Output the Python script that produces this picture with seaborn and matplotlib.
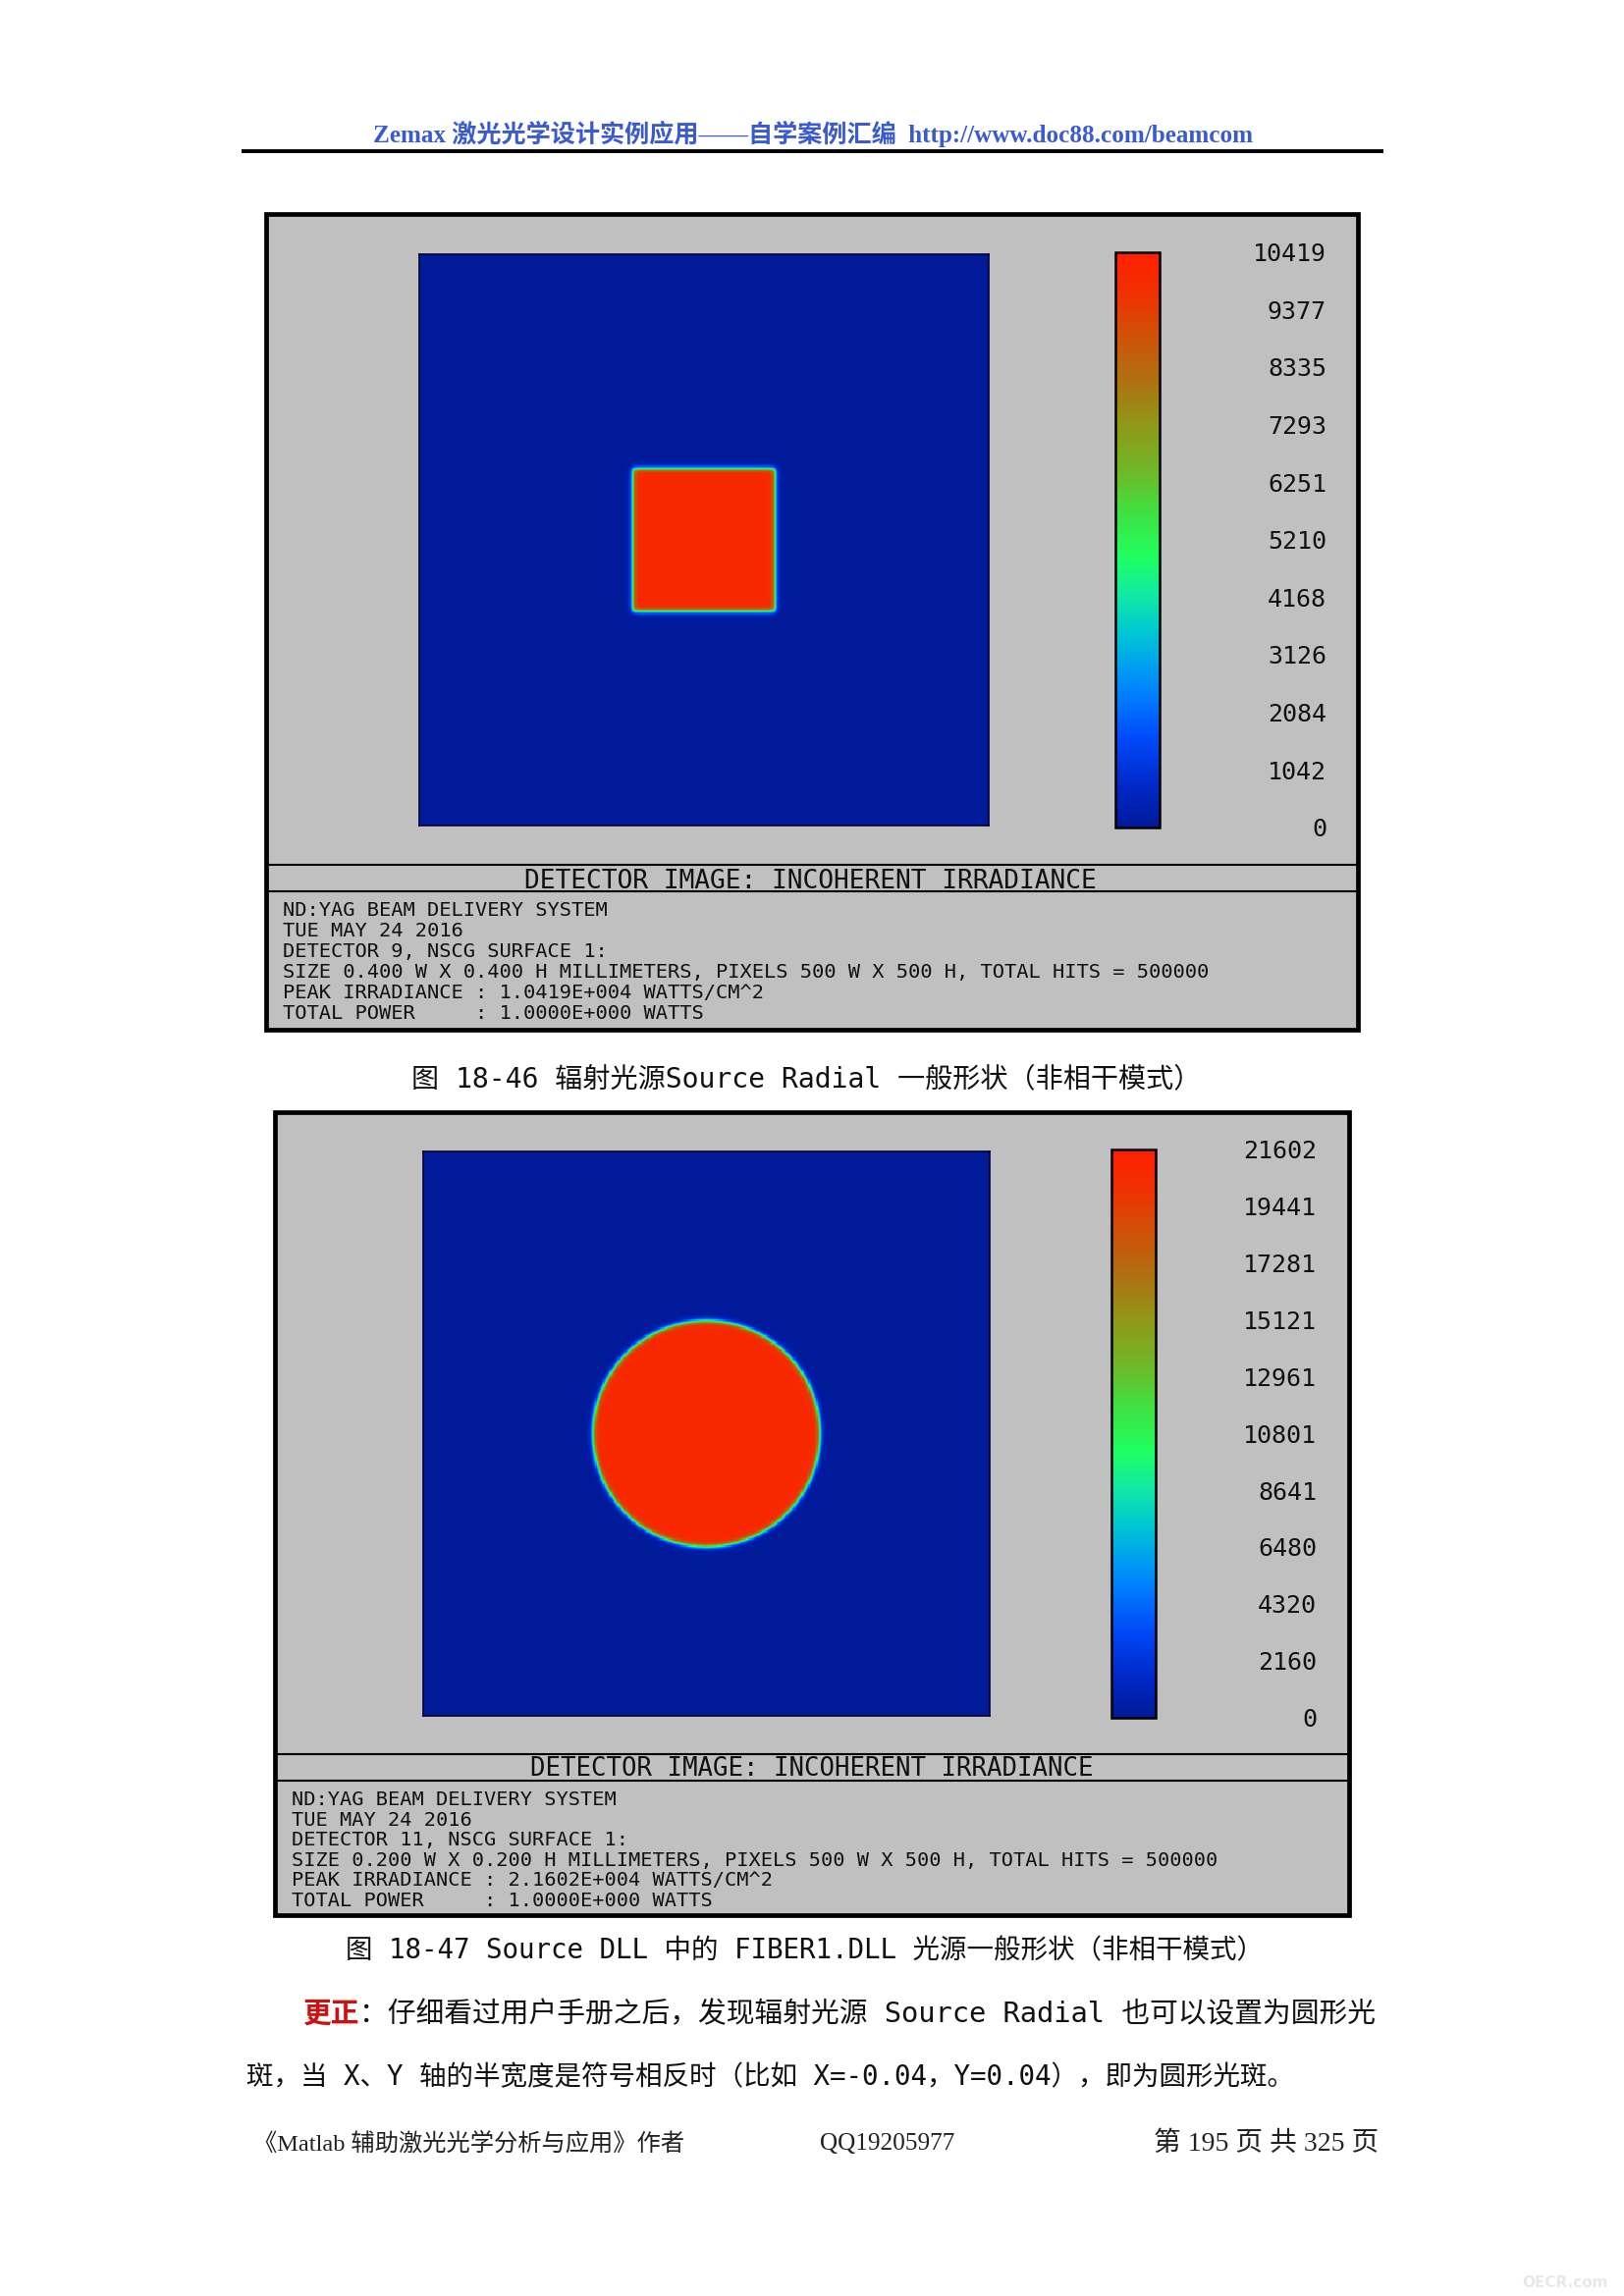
import numpy as np
import matplotlib
matplotlib.use("Agg")
import matplotlib.pyplot as plt
import matplotlib.transforms as mtransforms
from matplotlib.colors import LinearSegmentedColormap
from matplotlib.patches import Rectangle
import seaborn as sns

sns.set_theme(style="white")
plt.rcParams['font.family'] = ['DejaVu Sans', 'Noto Sans CJK SC']

# ---------------- data ----------------
pixels = 500
detector_size_mm = [0.400, 0.200]
source_half_width_mm = [0.050, 0.040]          # square half width / circle radius
source_shape = ["square", "circle"]
mean_irradiance = [10050.0, 20800.0]            # W/cm^2 inside the spot
peak_irradiance = [10419.0, 21602.0]
edge_pixels = [2.6, 2.6]

cbar_labels_1 = ["10419", "9377", "8335", "7293", "6251", "5210",
                 "4168", "3126", "2084", "1042", "0"]
cbar_labels_2 = ["21602", "19441", "17281", "15121", "12961", "10801",
                 "8641", "6480", "4320", "2160", "0"]

detector_title = "DETECTOR IMAGE: INCOHERENT IRRADIANCE"
info_lines_1 = [
    "ND:YAG BEAM DELIVERY SYSTEM",
    "TUE MAY 24 2016",
    "DETECTOR 9, NSCG SURFACE 1:",
    "SIZE 0.400 W X 0.400 H MILLIMETERS, PIXELS 500 W X 500 H, TOTAL HITS = 500000",
    "PEAK IRRADIANCE : 1.0419E+004 WATTS/CM^2",
    "TOTAL POWER     : 1.0000E+000 WATTS",
]
info_lines_2 = [
    "ND:YAG BEAM DELIVERY SYSTEM",
    "TUE MAY 24 2016",
    "DETECTOR 11, NSCG SURFACE 1:",
    "SIZE 0.200 W X 0.200 H MILLIMETERS, PIXELS 500 W X 500 H, TOTAL HITS = 500000",
    "PEAK IRRADIANCE : 2.1602E+004 WATTS/CM^2",
    "TOTAL POWER     : 1.0000E+000 WATTS",
]
header_text = "Zemax 激光光学设计实例应用——自学案例汇编  http://www.doc88.com/beamcom"
caption_1 = "图 18-46 辐射光源Source Radial 一般形状（非相干模式）"
caption_2 = "图 18-47 Source DLL 中的 FIBER1.DLL 光源一般形状（非相干模式）"
para_red = "更正"
para_1 = "：仔细看过用户手册之后，发现辐射光源 Source Radial 也可以设置为圆形光"
para_2 = "斑，当 X、Y 轴的半宽度是符号相反时（比如 X=-0.04，Y=0.04），即为圆形光斑。"
footer_left = "《Matlab 辅助激光光学分析与应用》作者"
footer_mid = "QQ19205977"
footer_right = "第 195 页 共 325 页"

# Zemax false-colour map
zemax_colors = [
    (0.00, "#001a99"), (0.07, "#0028c8"), (0.15, "#0048f8"), (0.22, "#0078ff"),
    (0.28, "#00a0f0"), (0.34, "#00c8d0"), (0.40, "#10e8a8"), (0.47, "#20ff60"),
    (0.55, "#40e040"), (0.62, "#70b828"), (0.70, "#909818"), (0.78, "#b07010"),
    (0.86, "#d05008"), (0.93, "#f03000"), (1.00, "#ff2000"),
]
cmap = LinearSegmentedColormap.from_list("zemax", zemax_colors)


def detector_map(size_mm, half_mm, shape, level, edge_px):
    c = (np.arange(pixels) + 0.5) / pixels * size_mm - size_mm / 2
    X, Y = np.meshgrid(c, c)
    w = edge_px * size_mm / pixels
    if shape == "square":
        fx = 0.5 * (1 - np.tanh((np.abs(X) - half_mm) / w))
        fy = 0.5 * (1 - np.tanh((np.abs(Y) - half_mm) / w))
        return level * fx * fy
    r = np.hypot(X, Y)
    return level * 0.5 * (1 - np.tanh((r - half_mm) / w))


# ---------------- layout ----------------
W, H = 1654, 2339
fig = plt.figure(figsize=(W / 100, H / 100), dpi=100)
fig.patch.set_facecolor("white")

page = fig.add_axes([0, 0, 1, 1])
page.set_xlim(0, W)
page.set_ylim(H, 0)
page.axis("off")


def rect(x0, y0, x1, y1):
    return [x0 / W, 1 - y1 / H, (x1 - x0) / W, (y1 - y0) / H]


renderer = fig.canvas.get_renderer()
CAP = 0.729  # cap height / em for DejaVu Sans Mono


def fit(t, width):
    for _ in range(4):
        w = t.get_window_extent(renderer).width
        t.set_fontsize(t.get_fontsize() * width / w)
    return t


def px(fs):
    return fs * 100 / 72


mono = "DejaVu Sans Mono"
cjk_mono = ["DejaVu Sans Mono", "Noto Sans CJK SC"]
cjk_serif = ["Liberation Serif", "Noto Sans CJK SC"]


def ztext(x, yc, s, fs, width=None):
    t = page.text(x, yc, s, ha="left", va="baseline", family=mono, fontsize=fs,
                  color="#111111", zorder=3)
    if width is not None:
        fit(t, width)
    t.set_y(yc + CAP * px(t.get_fontsize()) / 2)
    return t


# header
t = page.text(380, 136, header_text, ha="left", va="center", color="#3a5ad0",
              fontweight="bold", family=cjk_serif, fontsize=18)
fit(t, 895)
page.plot([246, 1409], [154, 154], color="black", lw=2.8, solid_capstyle="butt")

panels = [
    dict(frame=(271, 218, 1383, 1049), img=(427, 259, 1007, 841), cbar=(1136, 257, 1181, 843),
         lab_x=1351, sep1=881, title_y=895, sep2=908, title_x=(534, 1117),
         info_x=(288, 1235), info_y0=926, info_dy=21.0, labels=cbar_labels_1, info=info_lines_1),
    dict(frame=(280, 1133, 1374, 1951), img=(431, 1173, 1008, 1748), cbar=(1132, 1171, 1177, 1750),
         lab_x=1341, sep1=1787, title_y=1800, sep2=1814, title_x=(540, 1114),
         info_x=(297, 1230), info_y0=1832, info_dy=20.5, labels=cbar_labels_2, info=info_lines_2),
]

for i, p in enumerate(panels):
    x0, y0, x1, y1 = p["frame"]
    page.add_patch(Rectangle((x0, y0), x1 - x0, y1 - y0, facecolor="#c0c0c0",
                             edgecolor="black", lw=3.4, zorder=1))
    page.plot([x0, x1], [p["sep1"], p["sep1"]], color="black", lw=1.5, zorder=2)
    page.plot([x0, x1], [p["sep2"], p["sep2"]], color="black", lw=1.5, zorder=2)
    ztext(p["title_x"][0], p["title_y"], detector_title, 18,
          width=p["title_x"][1] - p["title_x"][0])
    t = ztext(p["info_x"][0], p["info_y0"] + 3 * p["info_dy"], p["info"][3], 14,
              width=p["info_x"][1] - p["info_x"][0])
    fs = t.get_fontsize()
    for k, line in enumerate(p["info"]):
        if k == 3:
            continue
        ztext(p["info_x"][0], p["info_y0"] + k * p["info_dy"], line, fs)

    ax = fig.add_axes(rect(*p["img"]))
    cax = fig.add_axes(rect(*p["cbar"]))
    Z = detector_map(detector_size_mm[i], source_half_width_mm[i], source_shape[i],
                     mean_irradiance[i], edge_pixels[i])
    sns.heatmap(Z, ax=ax, cmap=cmap, vmin=0, vmax=peak_irradiance[i], cbar=True,
                cbar_ax=cax, xticklabels=False, yticklabels=False, rasterized=True)
    for s in ax.spines.values():
        s.set_visible(True)
        s.set_color("#000030")
        s.set_linewidth(1.2)
    cb = ax.collections[0].colorbar
    cb.set_ticks([])
    cb.outline.set_edgecolor("black")
    cb.outline.set_linewidth(1.8)
    lab_fs = 18
    trans = mtransforms.blended_transform_factory(page.transData, cax.transData)
    trans = mtransforms.offset_copy(trans, fig=fig, y=-CAP * px(lab_fs) / 2, units="dots")
    for lab in p["labels"]:
        cax.text(p["lab_x"], float(lab), lab, transform=trans, ha="right", va="baseline",
                 family=mono, fontsize=lab_fs, color="#111111", clip_on=False)

# captions
t = page.text(419, 1099, caption_1, ha="left", va="center", family=cjk_mono,
              fontsize=20, color="#111111")
fit(t, 1226 - 419)
t = page.text(352, 1987, caption_2, ha="left", va="center", family=cjk_mono,
              fontsize=20, color="#111111")
fit(t, 1292 - 352)

# paragraph line 1 (red lead-in + black text)
tr = page.text(309, 2052, para_red, ha="left", va="center", family=cjk_mono,
               fontsize=21, color="#d01010", fontweight="bold")
tb = page.text(360, 2052, para_1, ha="left", va="center", family=cjk_mono,
               fontsize=21, color="#111111")
for _ in range(4):
    w1 = tr.get_window_extent(renderer).width
    w2 = tb.get_window_extent(renderer).width
    s = (1404 - 309) / (w1 + w2)
    tr.set_fontsize(tr.get_fontsize() * s)
    tb.set_fontsize(tb.get_fontsize() * s)
    tb.set_x(309 + tr.get_window_extent(renderer).width)
t = page.text(251, 2116, para_2, ha="left", va="center", family=cjk_mono,
              fontsize=21, color="#111111")
fit(t, 1324 - 251)

# footer
for txt, xa, xb in [(footer_left, 258, 698), (footer_mid, 835, 972), (footer_right, 1175, 1404)]:
    t = page.text(xa, 2184, txt, ha="left", va="center", family=cjk_serif,
                  fontsize=17, color="#222222")
    fit(t, xb - xa)

page.text(1594, 2326, "OECR.com", ha="center", va="center", fontsize=11,
          fontweight="bold", color="#e8e8e8")

fig.savefig("out.png", dpi=100, facecolor="white")
